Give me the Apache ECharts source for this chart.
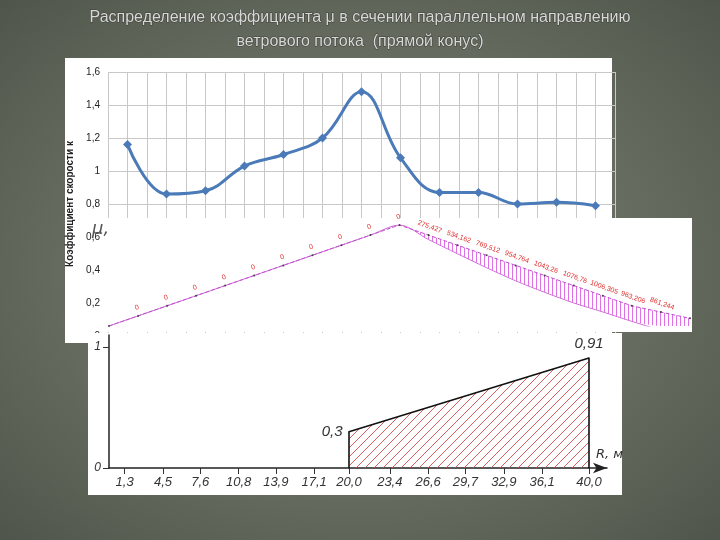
<!DOCTYPE html>
<html>
<head>
<meta charset="utf-8">
<script src="https://cdn.jsdelivr.net/npm/echarts@6/dist/echarts.min.js"></script>
<style>
  html, body { margin: 0; padding: 0; }
  body { background: radial-gradient(ellipse at center, #7a8072 0%, #646b5e 60%, #4f554a 100%); }
  #chart { width: 720px; height: 540px; }
</style>
</head>
<body>
<div id="chart"></div>
<script>
// верхний график: коэффициент скорости по точкам сечения
const speedCoef = [1.16, 0.86, 0.88, 1.03, 1.10, 1.20, 1.48, 1.08, 0.87, 0.87, 0.80, 0.81, 0.79]

// средняя схема: узлы стержня и эпюра
const trussNodes = ['0', '1', '2', '3', '4', '5', '6', '7', '8', '9', '10', '11', '12', '13', '14', '15', '16', '17', '18', '19', '20']
const trussY = [0, 0.1, 0.2, 0.3, 0.4, 0.5, 0.6, 0.7, 0.8, 0.9, 1, 0.9, 0.8, 0.7, 0.6, 0.5, 0.4, 0.3, 0.2, 0.1, 0]
const moments = [0, 0, 0, 0, 0, 0, 0, 0, 0, 0, 0, 275.427, 534.162, 769.512, 954.764, 1043.26, 1076.76, 1006.305, 963.206, 861.244, 475.738]
const momentScale = 0.00016

// нижний график: распределение μ по радиусу
const radiusTicks = [1.3, 4.5, 7.6, 10.8, 13.9, 17.1, 20.0, 23.4, 26.6, 29.7, 32.9, 36.1, 40.0]
const muR = [20, 20, 40, 40]
const muVal = [0, 0.3, 0.91, 0]

const comma = v => String(v).replace('.', ',')
const commaFixed = v => v.toFixed(1).replace('.', ',')

const vertHatch = (() => {
  const c = document.createElement('canvas')
  c.width = 4; c.height = 4
  const ctx = c.getContext('2d')
  ctx.fillStyle = '#ffffff'; ctx.fillRect(0, 0, 4, 4)
  ctx.fillStyle = '#e070e8'; ctx.fillRect(0, 0, 1, 4)
  return c
})()

// косая штриховка трапеции μ(R)
function renderHatch(params, api) {
  const pL = api.coord([muR[1], muVal[1]])
  const pR = api.coord([muR[2], muVal[2]])
  const B = api.coord([muR[0], 0])[1]
  const L = pL[0], R = pR[0], TL = pL[1]
  const k = (pR[1] - pL[1]) / (R - L)
  const children = []
  for (let c = L + pR[1]; c < R + B; c += 9) {
    const x0 = Math.max(L, c - B)
    const x1 = Math.min(R, (c - TL + k * L) / (1 + k))
    if (x1 > x0) children.push({ type: 'line', shape: { x1: x0, y1: c - x0, x2: x1, y2: c - x1 },
      style: { stroke: '#d04848', lineWidth: 0.9 } })
  }
  return { type: 'group', children }
}

const chart = echarts.init(document.getElementById('chart'))

const lowerCurve = trussY.map((y, i) => y - moments[i] * momentScale)

chart.setOption({
  animation: false,
  graphic: [
    { type: 'text', x: 360, y: 6, z: 50,
      style: { text: 'Распределение коэффициента μ в сечении параллельном направлению\nветрового потока  (прямой конус)',
        font: '16px "Liberation Sans"', fill: '#d8d8d8', stroke: '#3c4038', lineWidth: 1, align: 'center', lineHeight: 24 } },
    { type: 'rect', shape: { x: 65, y: 58, width: 547, height: 285 }, style: { fill: '#fff' }, z: 0 },
    { type: 'rect', shape: { x: 107, y: 218, width: 585, height: 114 }, style: { fill: '#fff' }, z: 10 },
    { type: 'rect', shape: { x: 88, y: 333, width: 534, height: 162 }, style: { fill: '#fff' }, z: 20 },
    { type: 'text', x: 92, y: 220, z: 15, style: { text: 'μ,', font: 'italic 18px "DejaVu Sans"', fill: '#555' } },
    { type: 'text', x: 596, y: 448, z: 30, style: { text: 'R, м', font: 'italic 13px "DejaVu Sans"', fill: '#333' } }
  ],
  grid: [
    { left: 108, right: 105, top: 72, bottom: 204 },
    { left: 109, right: 30, top: 225, bottom: 214 },
    { left: 109, right: 113, top: 335, bottom: 72 }
  ],
  xAxis: [
    { gridIndex: 0, type: 'value', min: 0, max: 13, interval: 0.5, z: 1,
      axisLine: { show: false }, axisTick: { show: false }, axisLabel: { show: false },
      splitLine: { lineStyle: { color: '#c8c8c8' } } },
    { gridIndex: 1, type: 'category', boundaryGap: false, data: trussNodes, show: false },
    { gridIndex: 2, type: 'value', min: 0, max: 41.5, z: 22,
      axisLine: { symbol: ['none', 'arrow'], symbolSize: [8, 14], lineStyle: { color: '#222', width: 1.5 } },
      axisTick: { customValues: radiusTicks, length: 6, lineStyle: { color: '#333' } },
      axisLabel: { customValues: radiusTicks, formatter: commaFixed, fontStyle: 'italic', fontSize: 13, color: '#333' },
      splitLine: { show: false } }
  ],
  yAxis: [
    { gridIndex: 0, type: 'value', min: 0, max: 1.6, interval: 0.2, z: 1,
      name: 'Коэффициент скорости к', nameLocation: 'middle', nameGap: 30,
      nameTextStyle: { fontWeight: 'bold', fontSize: 10, color: '#222' },
      axisLine: { show: false }, axisTick: { show: false },
      axisLabel: { formatter: comma, fontSize: 10, color: '#222' },
      splitLine: { lineStyle: { color: '#c8c8c8' } } },
    { gridIndex: 1, type: 'value', min: 0, max: 1, show: false },
    { gridIndex: 2, type: 'value', min: 0, max: 1.1, z: 22,
      axisLine: { show: true, lineStyle: { color: '#222', width: 1.5 } },
      axisTick: { customValues: [0, 1], length: 6, lineStyle: { color: '#333' } },
      axisLabel: { customValues: [0, 1], fontStyle: 'italic', fontSize: 12, color: '#333' },
      splitLine: { show: false } }
  ],
  series: [
    { type: 'line', xAxisIndex: 0, yAxisIndex: 0, z: 2, smooth: 0.4,
      data: speedCoef.map((v, i) => [i + 0.5, v]),
      symbol: 'diamond', symbolSize: 9,
      lineStyle: { color: '#4a7ab8', width: 3 }, itemStyle: { color: '#4a7ab8' } },
    { type: 'line', xAxisIndex: 1, yAxisIndex: 1, z: 12, stack: 'm',
      data: lowerCurve, smooth: 0.3,
      symbol: 'none', lineStyle: { color: '#d070d8', width: 1 } },
    { type: 'line', xAxisIndex: 1, yAxisIndex: 1, z: 12, stack: 'm',
      data: trussY.map((y, i) => ({
        value: y - lowerCurve[i],
        label: { rotate: i <= 10 ? 20 : -20 }
      })),
      symbol: 'circle', symbolSize: 2, itemStyle: { color: '#444' },
      lineStyle: { color: '#c050d0', width: 1, type: [4, 2] },
      areaStyle: { color: { image: vertHatch, repeat: 'repeat' }, opacity: 1 },
      label: { show: true, fontSize: 7, color: '#e03030',
        formatter: p => { const i = p.dataIndex; return (i === 0 || i === 20) ? '' : (i <= 10 ? '0' : comma(moments[i])) },
        position: 'top', distance: 4 } },
    { type: 'custom', xAxisIndex: 2, yAxisIndex: 2, z: 23, renderItem: renderHatch, data: [0], silent: true },
    { type: 'line', xAxisIndex: 2, yAxisIndex: 2, z: 24,
      data: muR.map((r, i) => ({ value: [r, muVal[i]], label: { position: i === 2 ? 'top' : 'left' } })),
      symbol: 'circle', symbolSize: 1, itemStyle: { color: '#111' },
      lineStyle: { color: '#111', width: 1.6 },
      label: { show: true, fontStyle: 'italic', fontSize: 15, color: '#333', distance: 6,
        formatter: p => (p.dataIndex === 1 || p.dataIndex === 2) ? comma(muVal[p.dataIndex]) : '' } }
  ]
})
</script>
</body>
</html>
